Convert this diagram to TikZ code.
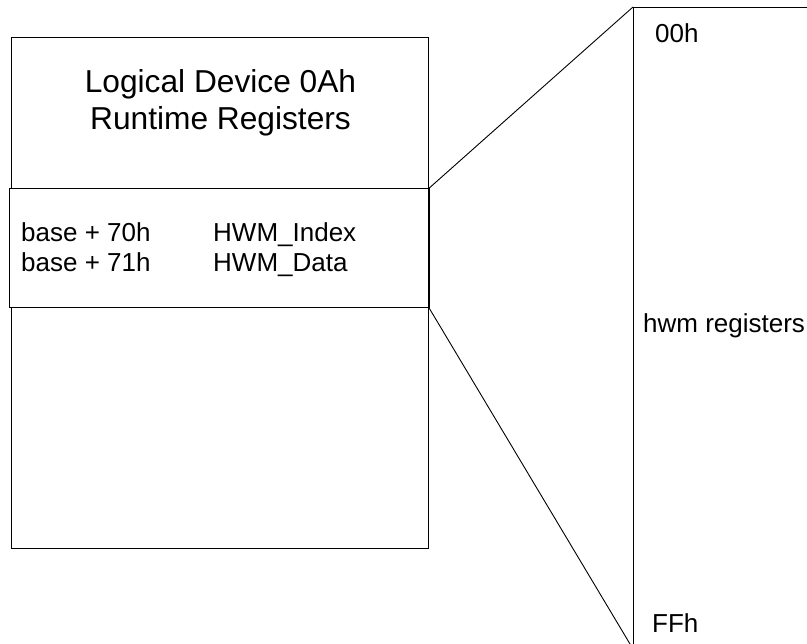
\documentclass[tikz,border=0pt]{standalone}
\usepackage{fontspec}
\setmainfont{Liberation Sans}
\begin{document}
\begin{tikzpicture}[x=1pt,y=-1pt,
  boxline/.style={draw=black,line width=1.3pt},
  thinline/.style={draw=black,line width=0.9pt},
  bigtext/.style={font=\fontsize{31.7}{37.3}\selectfont,inner sep=0pt},
  regtext/.style={font=\fontsize{26}{30}\selectfont,inner sep=0pt,anchor=base west}]
\useasboundingbox (0,0) rectangle (807,644);
\clip (0,0) rectangle (807,644);
% outer box
\node[boxline,minimum width=417pt,minimum height=511pt,inner sep=0pt,anchor=north west] (outer) at (11,37) {};
% middle box
\node[boxline,fill=white,minimum width=419pt,minimum height=119pt,inner sep=0pt,anchor=north west] (mid) at (9,188) {};
\draw[line width=2pt] (mid.north east) -- (mid.south east);
% title
\node[bigtext,anchor=base] (t1) at (220.5,92.7) {Logical Device 0Ah};
\node[bigtext,anchor=base] (t2) at (220.5,130) {Runtime Registers};
% register lines
\node[regtext] (b70) at (21,241.7) {base + 70h};
\node[regtext] (b71) at (21,271.7) {base + 71h};
\node[regtext] (hi) at (213,241.7) {HWM\_Index};
\node[regtext] (hd) at (213,271.7) {HWM\_Data};
% right box (zoomed register space)
\coordinate (rt) at (633,7);
\coordinate (rb) at (633,649);
\coordinate (rr) at (830,7);
\draw[thinline] (rr) -- (rt) -- (rb);
% connectors
\draw[thinline] (mid.north east) -- (rt);
\draw[thinline] (mid.south east) -- (rb);
% labels
\node[regtext] (l00) at (655,43) {00h};
\node[regtext] (lhwm) at (643,333) {hwm registers};
\node[regtext] (lff) at (652,632) {FFh};
\end{tikzpicture}
\end{document}
